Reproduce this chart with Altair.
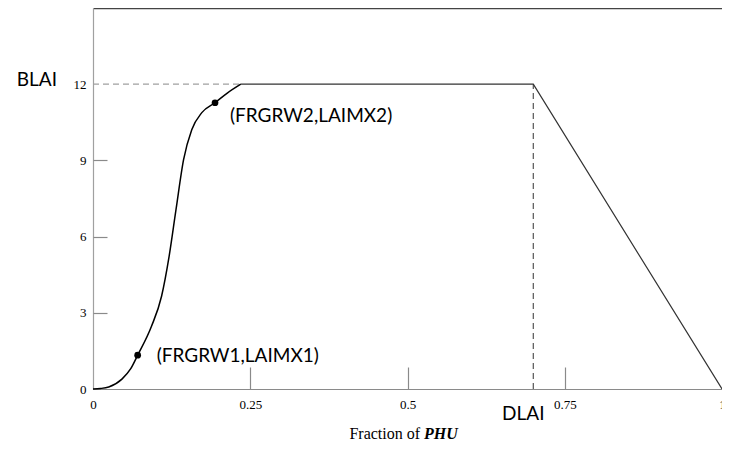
import altair as alt
import pandas as pd

# ---- data ----
curve_x = [0, 0.012, 0.025, 0.046, 0.06, 0.071, 0.093, 0.109, 0.121, 0.132, 0.144,
           0.157, 0.173, 0.194, 0.214, 0.235]
curve_y = [0, 0.02, 0.08, 0.39, 0.8, 1.33, 2.47, 3.65, 5.22, 7.07, 9.03,
           10.21, 10.88, 11.27, 11.66, 12.0]
plateau_x = [0.235, 0.70, 1.0]
plateau_y = [12, 12, 0]
blai = 12
dlai = 0.70
pt_x = [0.071, 0.194]
pt_y = [1.33, 11.27]
pt_label = ["(FRGRW1,LAIMX1)", "(FRGRW2,LAIMX2)"]
x_tick_labels = [0, 0.25, 0.5, 0.75, 1]
x_tick_marks = [0.25, 0.5, 0.75]
y_tick_labels = [0, 3, 6, 9, 12]
y_tick_marks = [3, 6, 9]

curve_df = pd.DataFrame({"x": curve_x, "y": curve_y})
plateau_df = pd.DataFrame({"x": plateau_x, "y": plateau_y})
pts_df = pd.DataFrame({"x": pt_x, "y": pt_y, "label": pt_label, "i": [0, 1]})
hdash_df = pd.DataFrame({"x": [0], "x2": [plateau_x[0]], "y": [blai]})
vdash_df = pd.DataFrame({"x": [dlai], "y": [0], "y2": [blai]})
anno_df = pd.DataFrame({"x": [0], "y": [blai], "t": ["BLAI"]})
dlai_df = pd.DataFrame({"x": [dlai], "y": [0], "t": ["DLAI"]})
title_df = pd.DataFrame({"x": [0.52], "y": [0], "a": ["Fraction of"], "b": ["PHU"]})

xs = alt.Scale(domain=[0, 1], nice=False, zero=False)
ys = alt.Scale(domain=[0, 15], nice=False, zero=False)
SERIF = "Liberation Serif"
SANS = "Lato"

def X(field="x", axis=None):
    return alt.X(f"{field}:Q", scale=xs, axis=axis)

def Y(field="y", axis=None):
    return alt.Y(f"{field}:Q", scale=ys, axis=axis)

# Main curve with labelled axes (domain + labels, no ticks)
curve = alt.Chart(curve_df).mark_line(interpolate="monotone", color="black", strokeWidth=1.5).encode(
    x=X(axis=alt.Axis(orient="bottom", values=x_tick_labels, labelExpr="'' + datum.value",
                      ticks=False, tickSize=0, labelPadding=9, domainColor="#8a8a8a",
                      domainWidth=1.2, labelFont=SERIF, labelFontSize=13, labelColor="black",
                      title=None, labelFlush=False)),
    y=Y(axis=alt.Axis(orient="left", values=y_tick_labels, ticks=False, tickSize=0, labelPadding=7,
                      domainColor="#a0a0a0", domainWidth=1.2, labelFont=SERIF, labelFontSize=13,
                      labelColor="black", title=None, labelFlush=False)),
)

# Plateau + decline, carrying the inward tick axes
plateau = alt.Chart(plateau_df).mark_line(color="#333333", strokeWidth=1.2).encode(
    x=X(axis=alt.Axis(orient="bottom", offset=-22, tickSize=22, values=x_tick_marks, labels=False,
                      domain=False, tickColor="#8a8a8a", tickWidth=1.2, title=None)),
    y=Y(axis=alt.Axis(orient="left", offset=-14, tickSize=14, values=y_tick_marks, labels=False,
                      domain=False, tickColor="#8a8a8a", tickWidth=1.2, title=None)),
)

# Horizontal dashed guide; also carries the top border (top axis domain)
hdash = alt.Chart(hdash_df).mark_rule(color="#a0a0a0", strokeDash=[6, 4], strokeWidth=1.2).encode(
    x=X(axis=alt.Axis(orient="top", ticks=False, labels=False, domainColor="#444444",
                      domainWidth=1.5, title=None)),
    x2="x2:Q",
    y=Y(),
)

vdash = alt.Chart(vdash_df).mark_rule(color="#555555", strokeDash=[6, 4], strokeWidth=1.2).encode(
    x=X(), y=Y(), y2="y2:Q"
)

points = alt.Chart(pts_df).mark_circle(color="black", size=45, opacity=1).encode(x=X(), y=Y())

lab1 = alt.Chart(pts_df).transform_filter("datum.i == 0").mark_text(
    align="left", baseline="middle", dx=19, dy=1, font=SANS, fontSize=19, color="black"
).encode(x=X(), y=Y(), text="label:N")

lab2 = alt.Chart(pts_df).transform_filter("datum.i == 1").mark_text(
    align="left", baseline="middle", dx=15, dy=13, font=SANS, fontSize=19, color="black"
).encode(x=X(), y=Y(), text="label:N")

blai_txt = alt.Chart(anno_df).mark_text(
    align="right", baseline="middle", dx=-36, dy=-4, font=SANS, fontSize=19, color="black"
).encode(x=X(), y=Y(), text="t:N")

dlai_txt = alt.Chart(dlai_df).mark_text(
    align="center", baseline="middle", dx=-10, dy=25, font=SANS, fontSize=19, color="black"
).encode(x=X(), y=Y(), text="t:N")

title_a = alt.Chart(title_df).mark_text(
    align="right", baseline="middle", dy=45, font=SERIF, fontSize=16, color="black"
).encode(x=X(), y=Y(), text="a:N")

title_b = alt.Chart(title_df).mark_text(
    align="left", baseline="middle", dx=4, dy=45, font=SERIF, fontSize=16, fontStyle="italic",
    fontWeight="bold", color="black"
).encode(x=X(), y=Y(), text="b:N")

chart = alt.layer(
    hdash, vdash, curve, plateau, points, lab1, lab2, blai_txt, dlai_txt, title_a, title_b
).resolve_axis(x="independent", y="independent").properties(
    width=629, height=381,
    autosize=alt.AutoSizeParams(type="none"),
    padding={"left": 85, "top": 0, "right": 0, "bottom": 52},
).configure_view(stroke=None).configure_axis(grid=False)

chart.save("out.html", embed_options={"renderer": "svg", "actions": False})
